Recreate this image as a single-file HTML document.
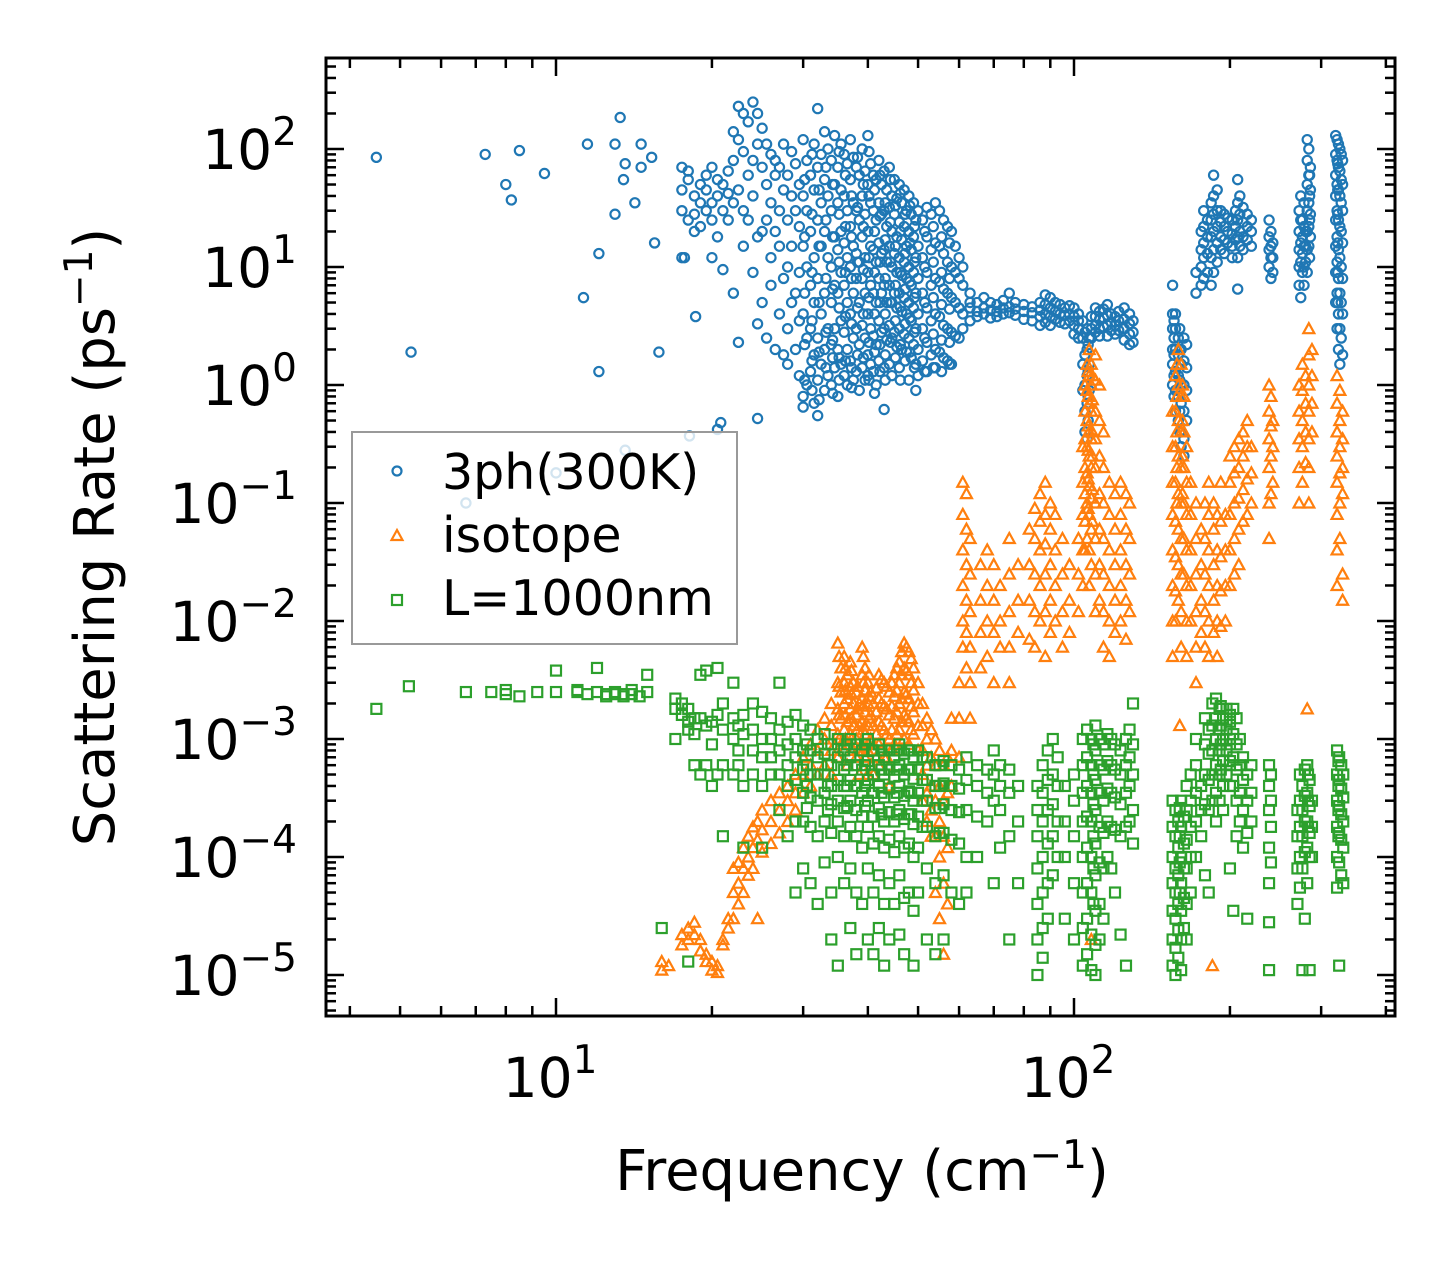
<!DOCTYPE html>
<html><head><meta charset="utf-8"><style>
html,body{margin:0;padding:0;background:#fff;}
svg{display:block;font-family:"DejaVu Sans","Liberation Sans",sans-serif;}
</style></head><body>
<svg id="chart" width="1455" height="1265" viewBox="0 0 1455 1265" xmlns="http://www.w3.org/2000/svg">
<rect width="1455" height="1265" fill="#fff"/>
<g id="marks"></g>
<g id="axes"></g>
<g id="legend">
  <rect x="352" y="432" width="385" height="212" fill="rgba(255,255,255,0.8)" stroke="#999" stroke-width="2"/>
  <circle cx="397" cy="471" r="4.5" fill="none" stroke="#1f77b4" stroke-width="2.2"/>
  <text x="442" y="489" font-size="49">3ph(300K)</text>
  <path d="M397,530 L402.5,540 L391.5,540 Z" fill="none" stroke="#ff7f0e" stroke-width="2.2"/>
  <text x="442" y="552" font-size="49">isotope</text>
  <rect x="392" y="595" width="10" height="10" fill="none" stroke="#2ca02c" stroke-width="2.2"/>
  <text x="442" y="615" font-size="49">L=1000nm</text>
</g>
<text x="862" y="1190" font-size="56" text-anchor="middle">Frequency (cm<tspan font-size="39" dy="-22">−1</tspan><tspan dy="22">)</tspan></text>
<text transform="translate(114,537) rotate(-90)" font-size="56" text-anchor="middle">Scattering Rate (ps<tspan font-size="39" dy="-22">−1</tspan><tspan dy="22">)</tspan></text>
</svg>
<script>
const xTickExps = [1, 2];
const yTickExps = [2, 1, 0, -1, -2, -3, -4, -5];
const blueScatter = [[4.5,85],[5.25,1.9],[7.3,90],[8,50],[8.2,37],[8.5,97],[9.5,62],[11.3,5.5],[11.5,110],[12.1,13],[12.1,1.3],[13,110],[13.3,185],[13.5,55],[13.6,75],[14.2,35],[14.6,110],[14.6,70],[15.3,85],[15.5,16],[15.8,1.9],[13,28],[17.7,12],[18.6,3.8],[13.6,0.28],[18.1,0.37],[20.5,0.42],[20.8,0.48],[10,0.18],[6.7,0.1],[24.5,0.52],[43,0.62]];
const blueCols = [[17.5,70,30,45,12],[18,55,25,65],[18.5,40,28,20],[19,35,50,22],[19.5,45,30,60],[20,70,25,12,35],[20.5,40,55,18],[21,30,9.5,50],[21.5,65,25,42],[22,140,80,35,6],[22.5,230,120,45,2.3],[23,200,95,30,15],[23.5,170,60,25],[24,250,80,40,9],[24.5,200,110,18,3.3],[25,150,70,20,5],[25.5,110,50,25,2.5],[26,90,35,12,7],[26.5,80,60,20,2],[27,70,30,15,4],[27.5,110,45,8,1.8],[28,60,25,10,3,1.5],[28.5,95,40,15,5],[29,75,30,6,2],[29.5,50,22,9,3.5,1.2],[30,120,40,15,4,0.8,0.65],[30.5,80,30,10,2.5,1],[31,60,20,7,3,1.3],[31.5,110,45,12,5,1.8,0.7],[32,220,70,25,8,2.5,1.1,0.55],[32.5,90,35,15,4,1.5],[33,140,55,20,6,2,0.9],[33.5,100,40,12,3,1.2],[34,80,30,10,5,2.2,1],[34.5,130,50,18,7,3,1.4],[35,70,35,14,6,2,0.8],[35.5,110,45,20,9,3.5,1.5],[36,90,40,16,7,2.8,1.2],[36.5,75,30,12,5,2,1],[37,120,55,22,10,4,1.6],[37.5,85,35,15,6,2.5,1.1],[38,70,30,13,8,3,1.3],[38.5,60,25,11,5,2.2,0.9],[39,100,40,18,8,3.2,1.4],[39.5,65,28,12,6,2.5,1.1],[40,130,50,20,9,4,1.8,1.2],[40.5,75,35,15,7,3,1.5],[41,60,30,14,6,2.6,1.3],[41.5,55,25,11,5,2.2,1],[42,80,35,16,8,3.5,1.6],[42.5,50,28,13,6,2.8],[43,65,30,14,7,3,1.4],[43.5,45,22,11,5,2.4],[44,70,32,15,7,3.2,1.5],[44.5,40,20,10,5,2.5,1.2],[45,55,28,13,6,2.8],[45.5,38,18,9,4.5,2.1],[46,50,24,12,6,3,1.4],[46.5,35,17,8.5,4.2,2],[47,45,22,11,5.5,2.7],[47.5,30,15,8,4,1.9],[48,40,20,10,5,2.5,1.1],[48.5,28,14,7,3.5,1.7],[49,35,18,9,4.5,2.2],[49.5,25,12,6,3,1.5,0.9],[50,30,15,8,4,2,1.2],[51,25,12,6,3,1.6],[52,32,18,9,4.5,2.3,1.3],[53,28,14,7,3.5,1.8],[54,35,16,8,4,2,1.4],[55,30,15,7.5,3.8,1.9],[56,25,13,6.5,3.2,1.7],[57,22,11,6,3,1.6],[58,20,10,5.5,2.8,1.5],[59,15,9,5,2.6],[60,12,8,4.5,2.5],[61,10,7,4,3],[63,6,5,4.5,3.5],[65,5,4.2,3.8],[67,5.5,4.5,4],[69,5,4.3,3.7],[71,4.8,4.2,3.8],[73,5.2,4.5,4],[75,6,4.6,4.1],[77,5,4.4,3.9],[80,4.8,4.2,3.6],[83,4.6,4.1,3.5],[86,5,4.3,3.8,3.2],[88,5.8,4.8,4,3.4],[90,5.5,4.5,3.8,3.2],[92,5,4.2,3.6],[94,4.8,4,3.4],[96,4.5,3.9,3.3],[98,4.7,4,3.5],[100,4.5,3.8,3.2,2.7],[102,4,3.5,3,2.5],[104,3.5,2.5,1.5,0.9],[105,2.8,1.8,1,0.6,0.4],[106,3,2,1.2,0.7,0.35],[107,2.5,1.5,0.9],[108,3.8,3,2.5],[110,4.5,3.8,3.2,2.8],[112,4.2,3.6,3,2.6],[114,4.4,3.7,3.1],[116,4.8,3.9,3.2,2.6],[118,4,3.4,2.9],[120,3.8,3.2,2.7],[122,4.2,3.5,2.9],[125,4.5,3.6,3,2.4],[128,4,3.3,2.7,2.2],[130,3.5,2.8,2.3],[155,7,4,3,2,1.5,1],[156,3.5,2.5,1.8,1.2,0.8],[157,4,3,2,1.3,0.9,0.6],[159,2.5,1.8,1.2,0.8,0.5],[161,2,1.5,1,0.7,0.4,0.3],[163,2.5,1.6,1,0.6,0.35,0.25],[165,2.2,1.4,0.9,0.5],[172,9,6],[176,20,14,10,7],[178,30,22,16,12,8],[181,25,18,13,9],[184,35,25,18,12,7],[186,60,40,28,20,14,9],[189,45,30,22,16,11],[192,30,24,18,14],[195,28,22,17,13],[198,26,20,16],[202,25,19,15,12],[205,30,22,17],[207,55,35,25,18,12,6.5],[209,40,28,20,15],[212,32,24,18,14],[216,28,22,17],[220,25,20,15],[238,25,18,14,10],[240,20,15,12,8],[242,16,12,9],[272,30,20,14,10,7],[274,40,25,16,11,5.5],[276,25,18,13,9],[278,35,22,15,10,7],[280,20,15,11],[282,120,80,50,30,20,14,9],[284,100,60,35,22,15],[286,70,45,28,18],[320,130,90,60,40,25,15,9,5],[322,120,80,50,30,18,11,6,3],[324,110,70,45,25,14,8,4,2],[326,100,65,40,22,12,6,3,1.5],[328,90,55,35,20,10,5,2.5],[330,80,50,30,16,8,4,1.8]];
const blueColsExtra = [[30.2,55,18,6,2.2,1.1],[31.2,90,28,9,3.5,1.6,0.9],[32.2,45,15,5,1.9,0.75],[33.2,70,25,8,2.8,1.4],[34.2,50,18,6.5,2.4,1.7,0.85],[35.2,95,28,11,4.5,1.7,1.1],[36.2,60,22,9,3.8,1.6],[37.2,40,18,8,3.3,1.4,0.95],[38.2,85,32,11,4.5,1.8],[39.2,50,22,9.5,4,1.7],[40.2,95,40,12,5.5,2.3,1.1],[41.2,45,20,9,4,1.9,0.85],[42.2,60,27,11,5,2.2,1.3],[43.2,35,17,8,4,1.8,1.1],[44.2,55,24,11,5,2.3],[45.2,33,15,7,3.5,1.7],[46.2,42,20,9,4.6,2.2,1.1],[47.2,28,13,6.5,3.3,1.6],[48.2,33,16,7.5,3.7,1.9],[49.2,22,11,5.5,2.8,1.4],[51.5,20,10,5,2.5,1.3],[53.5,22,11,5.5,2.7,1.4],[55.5,18,9,4.8,2.4,1.3],[57.5,16,8,4.4,2.3,1.5],[106.5,2.2,1.3,0.8,0.5],[160,3,2,1.1,0.6,0.4],[285,60,40,25,12],[323,75,45,28,16,9,5]];
const orangeScatter = [[160,1.3e-3],[185,1.2e-5],[282,1.8e-3],[108,2e-5],[330,1.5e-2],[330,2.5e-2]];
const orangeCols = [[16,1.1e-5,1.3e-5],[16.5,1.2e-5],[17.5,2.2e-5,1.8e-5],[18,2.5e-5,2e-5],[18.5,2.8e-5,2.2e-5],[19,2e-5,1.6e-5],[19.5,1.5e-5,1.3e-5],[20,1.3e-5,1.1e-5],[20.5,1.2e-5,1.05e-5],[21,2e-5,1.8e-5],[21.5,3e-5,2.5e-5],[22,8e-5,5e-5,3e-5],[22.5,9e-5,6e-5,4e-5],[23,1.2e-4,8e-5,5e-5],[23.5,1.5e-4,1e-4,7e-5],[24,1.8e-4,1.2e-4,8e-5],[24.5,2e-4,1.4e-4,3e-5],[25,2.5e-4,1.7e-4,1.1e-4],[26,3e-4,2e-4,1.3e-4],[27,3.5e-4,2.5e-4,1.6e-4],[28,4e-4,3e-4,2e-4],[29,5e-4,3.5e-4,2.5e-4],[30,7e-4,5e-4,3.5e-4],[31,9e-4,6e-4,4e-4],[32,1.2e-3,8e-4,5e-4],[33,1.5e-3,1e-3,6e-4],[34,2e-3,1.3e-3,8e-4,5e-4],[35,6.5e-3,3e-3,1.8e-3,1.1e-3,7e-4],[35.5,4e-3,2.5e-3,1.5e-3,9e-4],[36,5e-3,3e-3,2e-3,1.2e-3,8e-4],[36.5,3.5e-3,2.2e-3,1.4e-3,9e-4,6e-4],[37,4.5e-3,2.8e-3,1.8e-3,1.1e-3],[37.5,3e-3,2e-3,1.3e-3,8e-4],[38,2.5e-3,1.6e-3,1e-3,7e-4],[38.5,2e-3,1.3e-3,8e-4,5e-4],[39,6e-3,3.5e-3,2.2e-3,1.4e-3,9e-4],[39.5,4e-3,2.6e-3,1.7e-3,1.1e-3,7e-4],[40,3e-3,2e-3,1.3e-3,8e-4,5e-4],[40.5,2.5e-3,1.6e-3,1e-3,6e-4],[41,2e-3,1.3e-3,8e-4,5e-4],[42,3.5e-3,2.2e-3,1.4e-3,9e-4,6e-4],[43,3e-3,1.9e-3,1.2e-3,7e-4],[44,2.5e-3,1.6e-3,1e-3,6e-4,4e-4],[45,3.5e-3,2.3e-3,1.5e-3,9e-4],[46,4.5e-3,3e-3,2e-3,1.2e-3,8e-4],[47,6.5e-3,4e-3,2.5e-3,1.6e-3,1e-3],[48,5.5e-3,3.5e-3,2.2e-3,1.4e-3,9e-4],[49,4e-3,2.6e-3,1.7e-3,1.1e-3],[50,3e-3,2e-3,1.3e-3,8e-4],[51,2e-3,1.3e-3,8e-4,5e-4,3e-4],[52,1.5e-3,1e-3,6e-4,3.5e-4,2e-4],[53,1.2e-3,7e-4,4e-4,2.5e-4,1.5e-4],[54,1e-3,6e-4,3e-4,1.5e-4,5e-5],[55,8e-4,4e-4,2e-4,1e-4,3e-5],[56,6e-4,3e-4,1.5e-4,6e-5,1.5e-5],[57,7e-4,3.5e-4,1.2e-4,4e-5],[58,1.5e-3,8e-4,4e-4],[60,3e-3,1.5e-3,7e-4],[61,0.15,0.08,0.04,0.02,0.01,6e-3],[62,0.12,0.06,0.03,0.015,8e-3,4e-3],[63,0.05,0.025,0.012,6e-3,3e-3,1.5e-3],[66,0.03,0.015,8e-3,4e-3],[68,0.04,0.02,0.01,5e-3],[70,0.03,0.015,8e-3,3e-3],[72,0.02,0.01,6e-3],[75,0.05,0.025,0.012,6e-3,3e-3],[78,0.03,0.015,8e-3],[82,0.06,0.03,0.015,7e-3],[84,0.09,0.05,0.025,0.012,6e-3],[86,0.12,0.07,0.04,0.02,0.01],[88,0.15,0.08,0.045,0.025,0.012,5e-3],[90,0.1,0.06,0.03,0.015,8e-3],[92,0.08,0.04,0.02,0.01],[95,0.05,0.025,0.012,6e-3],[98,0.03,0.015,8e-3],[102,0.05,0.025,0.012],[104,0.3,0.15,0.08,0.04,0.02],[105,1,0.6,0.35,0.2,0.12,0.07,0.04],[106,1.5,0.9,0.5,0.3,0.18,0.1,0.05],[107,2,1.2,0.7,0.4,0.25,0.14,0.08,0.04,0.02],[108,1.5,1,0.6,0.35,0.2,0.11,0.06,0.03],[110,1.8,1.1,0.6,0.35,0.2,0.1,0.05,0.025,0.012],[112,1,0.5,0.25,0.12,0.06,0.03,0.015],[114,0.4,0.2,0.1,0.05,0.025,0.012,6e-3],[117,0.15,0.08,0.04,0.02,0.01,5e-3],[120,0.12,0.06,0.03,0.015,8e-3],[123,0.15,0.08,0.04,0.02,0.01],[126,0.12,0.06,0.03,0.015,7e-3],[128,0.1,0.05,0.025,0.012],[155,0.6,0.3,0.15,0.08,0.04,0.02,0.01,5e-3],[157,1.2,0.6,0.3,0.15,0.07,0.035,0.018,0.01],[159,2,1,0.5,0.25,0.12,0.06,0.03,0.015],[161,1.5,0.8,0.4,0.2,0.1,0.05,0.025,0.012,6e-3],[163,0.8,0.4,0.2,0.1,0.05,0.025],[165,0.3,0.15,0.08,0.04,0.02,0.01,5e-3],[168,0.15,0.08,0.04,0.02,0.01],[172,0.1,0.05,0.025,0.012,6e-3,3e-3],[176,0.06,0.03,0.015,8e-3],[179,0.1,0.05,0.025,0.012,6e-3],[182,0.15,0.08,0.04,0.02,0.01,5e-3],[186,0.1,0.06,0.03,0.015,8e-3],[189,0.08,0.04,0.02,0.01,5e-3],[192,0.15,0.07,0.035,0.018,9e-3],[196,0.08,0.04,0.02,0.01],[200,0.25,0.15,0.08,0.04,0.02],[204,0.3,0.18,0.1,0.05,0.025],[208,0.35,0.2,0.11,0.06,0.03],[212,0.4,0.25,0.13,0.07],[216,0.5,0.3,0.16,0.08],[220,0.3,0.18,0.1],[238,1,0.6,0.35,0.2,0.1,0.05],[240,0.8,0.45,0.25,0.12],[242,0.5,0.3,0.15],[272,1,0.6,0.35,0.2,0.1],[276,1.5,0.9,0.5,0.3,0.15],[280,1.2,0.7,0.4,0.22],[284,3,1.8,1,0.6,0.35,0.2,0.1],[288,2,1.2,0.7,0.4],[322,1.2,0.7,0.4,0.25,0.15,0.08,0.04,0.02],[326,0.9,0.5,0.3,0.18,0.1,0.05],[330,0.6,0.35,0.2,0.12]];
const orangeColsExtra = [[35.2,5e-3,2.8e-3,1.6e-3,1e-3],[36.2,4e-3,2.6e-3,1.6e-3,1e-3],[37.2,3.8e-3,2.4e-3,1.5e-3,1e-3],[38.2,2.8e-3,1.8e-3,1.2e-3,8e-4],[39.2,5e-3,3e-3,1.9e-3,1.2e-3,8e-4],[40.2,3.5e-3,2.3e-3,1.5e-3,9e-4],[41.5,2.7e-3,1.7e-3,1.1e-3,7e-4],[42.5,3.2e-3,2e-3,1.3e-3,8e-4],[43.5,2.8e-3,1.8e-3,1.1e-3,7e-4],[44.5,3e-3,1.9e-3,1.2e-3,8e-4],[45.5,4e-3,2.6e-3,1.7e-3,1.1e-3],[46.5,5.5e-3,3.5e-3,2.2e-3,1.4e-3],[47.5,6e-3,3.8e-3,2.4e-3,1.5e-3],[48.5,4.8e-3,3e-3,1.9e-3,1.2e-3],[106.5,1.3,0.8,0.45,0.28,0.16,0.09],[108.5,1.2,0.75,0.4,0.25,0.13,0.07],[158,1.5,0.8,0.4,0.2,0.1],[162,1,0.5,0.25,0.12]];
const greenCols = [[4.5,1.8e-3],[5.2,2.8e-3],[6.7,2.5e-3],[7.5,2.5e-3],[8,2.4e-3,2.6e-3],[8.5,2.3e-3],[9.2,2.5e-3],[10,3.8e-3,2.5e-3],[11,2.6e-3,2.5e-3],[11.5,2.4e-3],[12,4e-3,2.5e-3],[12.5,2.3e-3,2.4e-3],[13,2.4e-3,2.5e-3],[13.5,2.3e-3,2.4e-3],[14,2.6e-3,2.4e-3],[14.5,2.3e-3],[15,3.5e-3,2.5e-3],[16,2.5e-5],[17,2.2e-3,1.8e-3,1e-3],[17.5,2e-3,1.6e-3],[18,1.8e-3,1.4e-3,1.2e-3,1.3e-5],[18.5,1.5e-3,1.1e-3,6e-4],[19,3.5e-3,1.5e-3,5e-4],[19.5,3.8e-3,1.3e-3,6e-4],[20,1.4e-3,9e-4,4e-4],[20.5,4e-3,1.6e-3,5e-4],[21,2e-3,1.2e-3,6e-4,1.5e-4],[22,3e-3,1.5e-3,1e-3,5e-4],[22.5,1.3e-3,8e-4,6e-4],[23,1.6e-3,1.1e-3,4e-4,1.2e-4],[24,2e-3,1.2e-3,8e-4,5e-4],[25,1.7e-3,1e-3,7e-4,4e-4,1.2e-4],[26,1.5e-3,1e-3,7e-4,5e-4],[27,3e-3,1.2e-3,8e-4,5e-4,2.5e-4],[28,1.4e-3,9e-4,6e-4,4e-4,1.5e-4],[29,1.6e-3,1e-3,7e-4,4.5e-4,2e-4,5e-5],[30,1.3e-3,8e-4,5.5e-4,3.5e-4,2e-4,8e-5],[31,1.2e-3,8e-4,5e-4,3.2e-4,1.8e-4,6e-5],[32,1e-3,7e-4,5e-4,3e-4,1.5e-4,4e-5],[33,1.1e-3,7.5e-4,5e-4,3.5e-4,2e-4,9e-5],[34,9e-4,6e-4,4e-4,2.8e-4,1.6e-4,5e-5,2e-5],[35,1e-3,7e-4,4.5e-4,3e-4,2e-4,1e-4,1.2e-5],[36,8e-4,5.5e-4,4e-4,2.6e-4,1.5e-4,6e-5],[37,1e-3,7e-4,4.5e-4,3e-4,1.8e-4,8e-5,2.5e-5],[38,9e-4,6e-4,4e-4,2.5e-4,1.5e-4,5e-5,1.5e-5],[39,8e-4,5.5e-4,3.5e-4,2.2e-4,1.2e-4,4e-5],[40,1e-3,6.5e-4,4.5e-4,3e-4,1.8e-4,8e-5,2e-5],[41,8e-4,5e-4,3.5e-4,2.2e-4,1.3e-4,5e-5,1.5e-5],[42,9e-4,6e-4,4e-4,2.6e-4,1.5e-4,7e-5,2.5e-5],[43,7e-4,5e-4,3.2e-4,2e-4,1.2e-4,4e-5,1.2e-5],[44,8e-4,5.5e-4,3.8e-4,2.4e-4,1.4e-4,6e-5,2e-5],[45,7e-4,4.8e-4,3.2e-4,2e-4,1.1e-4,4e-5],[46,9e-4,6e-4,4e-4,2.5e-4,1.5e-4,7e-5,2.2e-5],[47,7.5e-4,5e-4,3.3e-4,2.1e-4,1.2e-4,4.5e-5,1.5e-5],[48,8e-4,5.5e-4,3.6e-4,2.3e-4,1.3e-4,5e-5],[49,7e-4,4.6e-4,3e-4,1.9e-4,1e-4,3.5e-5,1.2e-5],[50,8e-4,5.5e-4,3.5e-4,2.2e-4,1.2e-4,5e-5],[52,7e-4,4.5e-4,3e-4,1.8e-4,8e-5,2e-5],[54,6e-4,4e-4,2.6e-4,1.5e-4,6e-5,1.5e-5],[56,6.5e-4,4.2e-4,2.8e-4,1.6e-4,7e-5,2e-5],[58,6e-4,4e-4,2.5e-4,1.4e-4,5e-5],[60,5.5e-4,3.8e-4,2.4e-4,1.3e-4,4e-5],[62,7e-4,4.5e-4,2.5e-4,1e-4,5e-5],[65,6e-4,4e-4,2.2e-4,1e-4],[68,5.5e-4,3.5e-4,2e-4],[70,8e-4,5e-4,3e-4,6e-5],[72,6e-4,4e-4,2.5e-4,1.2e-4],[75,5.5e-4,3.5e-4,1.5e-4,2e-5],[78,4e-4,2e-4,6e-5],[85,4e-4,2.5e-4,1.5e-4,8e-5,4e-5,2e-5,1e-5],[87,6e-4,3.5e-4,2e-4,1e-4,5e-5,2.5e-5,1.4e-5],[89,8e-4,4.5e-4,2.5e-4,1.3e-4,6e-5,3e-5],[91,1e-3,5e-4,2.8e-4,1.5e-4,7e-5],[93,7e-4,4e-4,2e-4,1e-4],[96,4e-4,2e-4,1e-4,3e-5],[100,5e-4,3e-4,1.5e-4,6e-5,2e-5],[104,1e-3,6e-4,3.5e-4,2e-4,1e-4,5e-5,2.5e-5,1.2e-5],[106,1.2e-3,7e-4,4e-4,2.2e-4,1.2e-4,6e-5,3e-5,1.5e-5],[108,1e-3,6e-4,3.5e-4,2e-4,1e-4,5e-5,2.2e-5,1.1e-5],[110,1.3e-3,8e-4,4.5e-4,2.5e-4,1.3e-4,7e-5,3.5e-5,1.8e-5,1e-5],[112,1e-3,6e-4,3.5e-4,1.8e-4,9e-5,4e-5,2e-5],[114,9e-4,5.5e-4,3e-4,1.6e-4,8e-5,3e-5],[116,1.1e-3,6.5e-4,3.8e-4,2e-4,1e-4],[118,1e-3,6e-4,3.5e-4,1.8e-4,8e-5],[120,9e-4,5.5e-4,3.2e-4,1.7e-4,5e-5],[123,8e-4,5e-4,2.8e-4,1.5e-4,2.2e-5],[126,1e-3,6e-4,3.5e-4,1.8e-4,1.2e-5],[128,1.2e-3,7e-4,4e-4,2e-4],[130,2e-3,9e-4,5e-4,2.5e-4,1.3e-4],[155,3e-4,1.8e-4,1e-4,6e-5,3.5e-5,2e-5,1.2e-5],[157,2.5e-4,1.5e-4,8e-5,5e-5,3e-5,1.7e-5,1e-5],[159,2e-4,1.2e-4,7e-5,4e-5,2.4e-5,1.4e-5],[161,3e-4,1.8e-4,1e-4,6e-5,3.5e-5,2e-5,1.1e-5],[163,2.2e-4,1.3e-4,8e-5,4.5e-5,2.5e-5],[165,4e-4,2.5e-4,1.4e-4,8e-5,4e-5,2e-5],[168,5e-4,3e-4,1.8e-4,1e-4,5e-5],[172,1e-3,6e-4,3.5e-4,2e-4,1e-4],[176,4e-4,2.5e-4,1.5e-4],[179,1.5e-3,9e-4,5e-4,2.8e-4,7e-5],[182,1.2e-3,7.5e-4,4.5e-4,2.5e-4,5e-5],[185,2e-3,1.3e-3,8e-4,5e-4,3e-4],[188,2.2e-3,1.5e-3,1e-3,6e-4,3.5e-4,2e-4],[191,1.8e-3,1.2e-3,8e-4,5e-4,3e-4],[194,1.5e-3,1e-3,6.5e-4,4e-4,2.5e-4],[197,1.8e-3,1.2e-3,8e-4,5e-4],[200,1.6e-3,1e-3,6.5e-4,4e-4,8e-5],[203,1.8e-3,1.1e-3,7e-4,4e-4,3.5e-5],[206,1.5e-3,9e-4,5.5e-4,3e-4,1.5e-4],[209,1e-3,6e-4,3.5e-4,2e-4],[212,7e-4,4.5e-4,2.5e-4,1.2e-4],[216,5e-4,3e-4,1.6e-4,3e-5],[220,6e-4,3.5e-4,2e-4],[238,6e-4,4e-4,2.5e-4,1.2e-4,6e-5,2.8e-5,1.1e-5],[240,5e-4,3e-4,1.8e-4,9e-5],[270,2.5e-4,1.5e-4,8e-5,4e-5],[273,5e-4,3e-4,1.8e-4,1e-4,5.5e-5],[276,4e-4,2.5e-4,1.5e-4,8e-5,1.1e-5],[279,5.5e-4,3.3e-4,2e-4,1.1e-4,3e-5],[282,6e-4,3.5e-4,2e-4,1.2e-4,6e-5],[285,4.5e-4,2.7e-4,1.6e-4,1e-4,1.1e-5],[288,3e-4,1.8e-4,1e-4],[322,8e-4,5e-4,3e-4,1.8e-4,1e-4,5.5e-5],[325,7e-4,4.5e-4,2.7e-4,1.6e-4,9e-5,1.2e-5],[328,6e-4,3.8e-4,2.3e-4,1.4e-4,7e-5],[331,5e-4,3.2e-4,2e-4,1.2e-4,6e-5]];
const greenColsExtra = [[30.5,9e-4,6e-4,4e-4,2.6e-4],[33.5,9e-4,6e-4,4e-4,2.5e-4],[36.5,9e-4,6e-4,4e-4,2.7e-4],[39.5,9e-4,6e-4,4e-4,2.7e-4],[42.5,8e-4,5.5e-4,3.5e-4,2.3e-4],[45.5,8e-4,5.5e-4,3.5e-4,2.3e-4],[48.5,8e-4,5.5e-4,3.5e-4,2.3e-4],[51,7e-4,4.5e-4,3e-4,1.8e-4],[55,6e-4,4e-4,2.6e-4,1.6e-4],[109,9e-4,5e-4,2.8e-4,1.5e-4,8e-5,4e-5],[160,2.6e-4,1.5e-4,9e-5,5e-5],[192,1.9e-3,1.3e-3,9e-4,5.5e-4],[200,1.4e-3,9e-4,6e-4],[283,5e-4,3e-4,1.8e-4],[324,6.5e-4,4e-4,2.5e-4,1.5e-4]];

const NS = "http://www.w3.org/2000/svg";
const PL = 326, PR = 1395, PT = 58, PB = 1016;
function xs(f){ return 556 + 518*(Math.log10(f) - 1); }
function ys(r){ return 149 - 118*(Math.log10(r) - 2); }
function mk(tag, attrs){ const e = document.createElementNS(NS, tag); for (const k in attrs) e.setAttribute(k, attrs[k]); return e; }
function flatten(cols){ const out = []; cols.forEach(c => { for (let i = 1; i < c.length; i++) out.push([c[0], c[i]]); }); return out; }

const marks = document.getElementById('marks');
function drawSeries(points, kind, color, name){
  const g = mk('g', {});
  
  
  points.forEach(p => {
    const x = xs(p[0]), y = ys(p[1]);
    if (x < PL || x > PR || y < PT || y > PB) return;
    let el;
    if (kind === 'circle') el = mk('circle', {cx: x, cy: y, r: 4.6});
    else if (kind === 'tri') el = mk('path', {d: `M${x},${y-5.5} L${x+5.5},${y+4.5} L${x-5.5},${y+4.5} Z`});
    else el = mk('rect', {x: x-5, y: y-5, width: 10, height: 10});
    el.setAttribute('fill', 'none');
    el.setAttribute('stroke', color);
    el.setAttribute('stroke-width', '2.2');
    
    
    g.appendChild(el);
  });
  marks.appendChild(g);
}
drawSeries(blueScatter.concat(flatten(blueCols), flatten(blueColsExtra)), 'circle', '#1f77b4', 'phonon-3ph');
drawSeries(orangeScatter.concat(flatten(orangeCols), flatten(orangeColsExtra)), 'tri', '#ff7f0e', 'isotope');
drawSeries(flatten(greenCols).concat(flatten(greenColsExtra)), 'square', '#2ca02c', 'boundary-l1000nm');

const axes = document.getElementById('axes');
const frame = mk('rect', {x: PL, y: PT, width: PR-PL, height: PB-PT, fill: 'none', stroke: '#000', 'stroke-width': 3});


axes.appendChild(frame);
function tick(x1,y1,x2,y2){ axes.appendChild(mk('line',{x1,y1,x2,y2,stroke:'#000','stroke-width':2.5})); }
for (let d = 0; d <= 2; d++) for (let m = 1; m <= 9; m++) {
  const f = m * Math.pow(10, d); const x = xs(f);
  if (x < PL || x > PR) continue;
  const L = m === 1 ? 18 : 10;
  tick(x, PB, x, PB-L); tick(x, PT, x, PT+L);
}
for (let d = -6; d <= 2; d++) for (let m = 1; m <= 9; m++) {
  const r = m * Math.pow(10, d); const y = ys(r);
  if (y < PT || y > PB) continue;
  const L = m === 1 ? 18 : 10;
  tick(PL, y, PL+L, y); tick(PR, y, PR-L, y);
}
xTickExps.forEach(e => {
  const t = mk('text', {x: xs(Math.pow(10, e)) - 6, y: 1097, 'font-size': 55, 'text-anchor': 'middle'});
  
  
  t.innerHTML = `10<tspan font-size="39" dy="-24">${e}</tspan>`;
  axes.appendChild(t);
});
yTickExps.forEach(e => {
  const t = mk('text', {x: 297, y: ys(Math.pow(10, e)) + 20, 'font-size': 55, 'text-anchor': 'end'});
  
  
  const s = e < 0 ? '−' + (-e) : '' + e;
  t.innerHTML = `10<tspan font-size="39" dy="-24">${s}</tspan>`;
  axes.appendChild(t);
});
</script>
</body></html>
